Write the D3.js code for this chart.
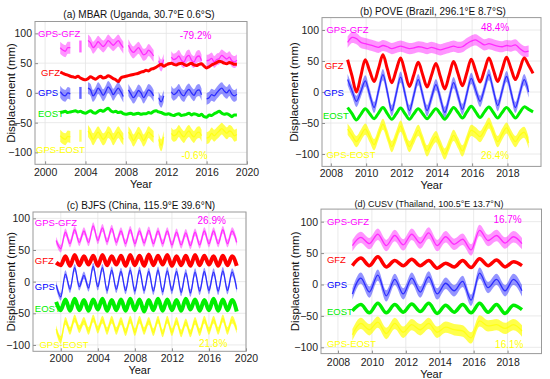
<!DOCTYPE html>
<html><head><meta charset="utf-8">
<script src="https://cdn.jsdelivr.net/npm/d3@7"></script>
<style>
body{margin:0;background:#fff}
svg{display:block;font-family:"Liberation Sans",Arial,Helvetica,sans-serif}
</style>
</head><body>
<svg id="chart" width="550" height="379"></svg>
<script>
// ---------------- DATA ----------------
const seriesNames = ["GPS-GFZ", "GFZ", "GPS", "EOST", "GPS-EOST"];
const yTickValues = [-100, -50, 0, 50, 100];

// (a) MBAR: sampled every 0.25 yr from 2001.5
const aYears = d3.range(71).map(i => 2001.5 + 0.25 * i);
const aXTicks = [2000, 2004, 2008, 2012, 2016, 2020];
const aGPS = [2,-3,-5,0,-2,null,null,null,0,null,null,8,5,-5,0,8,3,-4,2,10,5,-3,3,8,2,-6,null,5,-2,-8,-3,4,0,-8,-2,5,2,-5,null,-8,-15,-5,null,null,2,-3,0,5,-2,-5,2,6,0,-4,3,5,-3,null,-10,-8,-3,-5,0,5,8,3,0,5,-2,-5,-2];
const aGPSGFZ = [76,72,70,76,76,null,null,null,78,null,null,88,84,76,80,86,82,78,82,88,84,80,84,88,82,76,null,80,72,68,72,76,70,64,66,72,68,62,null,54,46,56,null,null,60,56,58,62,55,52,60,63,55,52,60,62,54,null,54,55,58,52,56,58,63,60,57,60,54,52,55];
const aGPSEOST = [-72,-76,-78,-73,-74,null,null,null,-72,null,null,-64,-70,-78,-72,-66,-72,-78,-74,-66,-70,-78,-72,-66,-72,-78,null,-66,-72,-80,-74,-67,-72,-80,-74,-66,-70,-74,null,-78,-88,-74,null,null,-68,-72,-70,-64,-70,-74,-68,-64,-70,-74,-68,-66,-72,null,-76,-74,-68,-72,-68,-64,-60,-64,-68,-64,-66,-72,-70];
const aGFZ = [35,33,31,30,28,27,26,28,25,23,22,24,27,25,23,26,28,25,26,29,27,24,22,19,25,27,28,29,30,31,32,33,35,36,38,37,40,41,43,46,48,45,47,49,50,48,47,49,50,48,46,48,50,47,46,48,49,45,42,44,47,49,51,53,52,50,49,51,50,48,48];
const aEOST = [-33,-32,-31,-33,-32,-31,-30,-32,-31,-33,-34,-32,-30,-33,-34,-31,-29,-31,-28,-26,-30,-32,-31,-33,-32,-35,-36,-35,-34,-36,-35,-34,-36,-35,-35,-33,-34,-31,-30,-32,-33,-35,-36,-35,-37,-38,-36,-35,-38,-37,-36,-34,-37,-35,-36,-38,-36,-40,-41,-37,-38,-35,-33,-31,-34,-36,-35,-37,-40,-37,-37];
const aPercent = ["-79.2%", "-0.6%"];

// (b) POVE: sampled every 0.25 yr from 2008.95
const bYears = d3.range(43).map(i => 2008.95 + 0.25 * i);
const bXTicks = [2008, 2010, 2012, 2014, 2016, 2018];
const bGFZ = [52,26,0,26,52,34,17,38,60,37,15,35,55,32,9,28,48,28,8,27,46,25,5,27,49,30,10,31,53,34,16,35,55,36,17,36,56,38,20,37,55,43,30];
const bGPS = [20,2,-15,1,18,-4,-25,2,28,0,-30,-3,24,-3,-30,-5,20,-5,-30,-9,12,-10,-33,-10,15,-6,-28,-3,22,3,-15,6,28,3,-22,2,25,0,-25,-2,20,0,null];
const bEOST = [-25,-35,-45,-36,-27,-35,-43,-34,-25,-35,-44,-35,-26,-35,-44,-35,-27,-35,-43,-35,-27,-35,-44,-35,-25,-33,-42,-32,-23,-32,-41,-32,-24,-33,-42,-33,-25,-33,-42,-33,-24,-28,-32];
const bGPSGFZ = [80,88,86,80,78,76,74,72,75,73,70,72,74,72,70,71,73,72,70,72,70,68,70,72,74,72,73,78,82,84,80,76,78,76,74,73,75,74,76,70,65,66,null];
const bGPSEOST = [-60,-70,-80,-70,-60,-72,-85,-68,-52,-70,-88,-72,-55,-72,-88,-75,-62,-78,-95,-82,-72,-86,-100,-85,-70,-82,-95,-78,-62,-66,-72,-62,-50,-65,-80,-68,-58,-70,-80,-70,-65,-82,null];
const bPercent = ["48.4%", "26.4%"];

// (c) BJFS: sampled every 0.5 yr from 1999.5
const cYears = d3.range(40).map(i => 1999.5 + 0.5 * i);
const cXTicks = [2000, 2004, 2008, 2012, 2016, 2020];
const cGFZ = [30,26,40,25,42,26,40,27,41,25,42,26,40,27,41,25,42,26,41,25,43,26,41,27,42,25,40,26,41,25,42,26,41,27,40,25,41,26,40,25];
const cGPS = [-5,-24,12,-12,22,-8,10,-10,24,-8,22,-14,18,-12,16,-14,18,-15,18,-14,16,-15,18,-16,17,-14,16,-17,14,-18,15,-15,16,-14,15,-15,17,-14,15,-12];
const cEOST = [-32,-45,-28,-46,-27,-45,-29,-46,-28,-44,-27,-46,-29,-45,-28,-46,-27,-45,-28,-47,-29,-45,-27,-46,-28,-45,-29,-46,-27,-44,-28,-46,-29,-45,-27,-46,-28,-45,-29,-47];
const cGPSGFZ = [65,52,78,60,82,62,80,62,88,65,85,63,84,62,80,60,82,60,80,61,81,60,80,60,80,58,78,58,77,57,78,58,80,60,80,60,82,60,80,62];
const cGPSEOST = [-75,-92,-62,-78,-58,-75,-62,-78,-58,-76,-60,-78,-60,-78,-62,-80,-60,-80,-60,-78,-62,-80,-60,-82,-60,-80,-62,-82,-64,-82,-62,-80,-60,-78,-60,-78,-58,-78,-60,-76];
const cPercent = ["26.9%", "21.8%"];

// (d) CUSV: sampled every 0.5 yr from 2008.85
const dYears = d3.range(21).map(i => 2008.85 + 0.5 * i);
const dXTicks = [2008, 2010, 2012, 2014, 2016, 2018];
const dGPS = [-15,10,-12,15,-18,8,-15,10,-12,12,-15,2,-10,5,-25,18,-5,8,-10,8,-10];
const dGFZ = [30,42,30,44,28,38,30,40,30,38,26,34,28,38,27,41,30,39,28,36,30];
const dEOST = [-42,-32,-45,-30,-45,-32,-44,-31,-43,-30,-46,-33,-44,-32,-45,-30,-44,-32,-46,-33,-40];
const dGPSGFZ = [62,75,65,80,62,78,63,80,66,82,62,76,64,72,55,86,70,78,66,76,65];
const dGPSEOST = [-80,-62,-72,-60,-78,-62,-76,-64,-72,-62,-76,-68,-72,-74,-85,-58,-66,-64,-70,-64,-74];
const dPercent = ["16.7%", "16.1%"];

// ---------------- STYLE / LAYOUT ----------------
const colors = {"GPS-GFZ":"#ff00ff","GFZ":"#ff0000","GPS":"#0000ff","EOST":"#00ee00","GPS-EOST":"#ffff00"};
const modelSeries = new Set(["GFZ","EOST"]);

const panels = [
  {title:"(a) MBAR (Uganda, 30.7°E 0.6°S)", titleX:139, titleY:14, titleSize:10,
   left:35, right:247, top:21.5, bottom:164.3, xDomain:[1999,2020], yDomain:[-120,120],
   xTicks:aXTicks, years:aYears, curve:d3.curveMonotoneX, spread:10, lineW:3,
   values:{"GPS-GFZ":aGPSGFZ,"GFZ":aGFZ,"GPS":aGPS,"EOST":aEOST,"GPS-EOST":aGPSEOST},
   labelPos:[[1999.3,100],[1999.6,35],[1999.3,0],[1999.3,-35],[1999.1,-95]],
   percent:aPercent, percentPos:[[2014.9,97],[2014.8,-105]],
   yLabelX:11, xTickY:176.5, xLabelY:187.5},
  {title:"(b) POVE (Brazil, 296.1°E 8.7°S)", titleX:433, titleY:11, titleSize:10,
   left:322, right:541, top:17.6, bottom:166.4, xDomain:[2007.5,2019.9], yDomain:[-120,120],
   xTicks:bXTicks, years:bYears, curve:d3.curveCatmullRom, spread:9, lineW:3,
   values:{"GPS-GFZ":bGPSGFZ,"GFZ":bGFZ,"GPS":bGPS,"EOST":bEOST,"GPS-EOST":bGPSEOST},
   labelPos:[[2007.75,101],[2007.65,42],[2007.6,0],[2007.55,-38],[2007.75,-100]],
   percent:bPercent, percentPos:[[2017.3,104],[2017.3,-103]],
   yLabelX:294, xTickY:177.5, xLabelY:189},
  {title:"(c) BJFS (China, 115.9°E 39.6°N)", titleX:141, titleY:205, titleSize:10,
   left:33, right:246, top:212, bottom:351.3, xDomain:[1997,2020], yDomain:[-110,110],
   xTicks:cXTicks, years:cYears, curve:d3.curveMonotoneX, spread:6, lineW:4,
   values:{"GPS-GFZ":cGPSGFZ,"GFZ":cGFZ,"GPS":cGPS,"EOST":cEOST,"GPS-EOST":cGPSEOST},
   labelPos:[[1997.2,94],[1997.2,33],[1997.2,-7],[1997.2,-42],[1997.7,-100]],
   percent:cPercent, percentPos:[[2016.3,96],[2016.45,-98]],
   yLabelX:11, xTickY:362, xLabelY:374},
  {title:"(d) CUSV (Thailand, 100.5°E 13.7°N)", titleX:429, titleY:204, titleSize:9,
   left:321, right:541.5, top:209.1, bottom:353.6, xDomain:[2007,2020], yDomain:[-110,120],
   xTicks:dXTicks, years:dYears, curve:d3.curveMonotoneX, spread:9, lineW:3.5,
   values:{"GPS-GFZ":dGPSGFZ,"GFZ":dGFZ,"GPS":dGPS,"EOST":dEOST,"GPS-EOST":dGPSEOST},
   labelPos:[[2007.35,101],[2007.35,39],[2007.35,0],[2007.35,-43],[2007.35,-94]],
   percent:dPercent, percentPos:[[2018.0,103],[2018.1,-95]],
   yLabelX:295, xTickY:366, xLabelY:377.5}
];

// ---------------- DRAW ----------------
const svg = d3.select("#chart");
const defs = svg.append("defs");

panels.forEach((p, pi) => {
  const x = d3.scaleLinear().domain(p.xDomain).range([p.left, p.right]);
  const y = d3.scaleLinear().domain(p.yDomain).range([p.bottom, p.top]);
  const g = svg.append("g");
  const clipId = "clip" + pi;
  defs.append("clipPath").attr("id", clipId).append("rect")
    .attr("x", p.left).attr("y", p.top).attr("width", p.right - p.left).attr("height", p.bottom - p.top);

  // grid
  const grid = g.append("g").attr("stroke", "#e4e4e4").attr("stroke-width", 0.8);
  p.xTicks.forEach(t => grid.append("line").attr("x1", x(t)).attr("x2", x(t)).attr("y1", p.top).attr("y2", p.bottom));
  yTickValues.forEach(t => grid.append("line").attr("x1", p.left).attr("x2", p.right).attr("y1", y(t)).attr("y2", y(t)));

  // axes
  const xa = g.append("g").attr("transform", `translate(0,${p.bottom})`)
    .call(d3.axisBottom(x).tickValues(p.xTicks).tickFormat(d3.format("d")).tickSizeInner(-3).tickSizeOuter(0).tickPadding(4));
  const ya = g.append("g").attr("transform", `translate(${p.left},0)`)
    .call(d3.axisLeft(y).tickValues(yTickValues).tickSizeInner(-3).tickSizeOuter(0).tickPadding(3));
  [xa, ya].forEach(a => {
    a.select(".domain").remove();
    a.selectAll(".tick line").attr("stroke", "#8c8c8c");
    a.selectAll("text").attr("fill", "#222").style("font-size", "10.5px").style("font-family", "Liberation Sans, Arial, sans-serif");
  });
  xa.selectAll("text").attr("dy", null).attr("y", p.xTickY - p.bottom).attr("dominant-baseline", "auto");

  // series
  const plot = g.append("g").attr("clip-path", `url(#${clipId})`);
  seriesNames.forEach(name => {
    const vals = p.values[name];
    const data = p.years.map((t, i) => ({t, v: vals[i]}));
    const col = colors[name];
    if (modelSeries.has(name)) {
      plot.append("path").datum(data)
        .attr("fill", "none").attr("stroke", col).attr("stroke-width", p.lineW).attr("stroke-linejoin", "round")
        .attr("d", d3.line().defined(d => d.v != null).x(d => x(d.t)).y(d => y(d.v)).curve(p.curve));
    } else {
      plot.append("path").datum(data)
        .attr("fill", col).attr("fill-opacity", name === "GPS-EOST" ? 0.7 : 0.42).attr("stroke", "none")
        .attr("d", d3.area().defined(d => d.v != null).x(d => x(d.t))
          .y0(d => y(d.v - p.spread)).y1(d => y(d.v + p.spread)).curve(p.curve));
      plot.append("path").datum(data)
        .attr("fill", "none").attr("stroke", col).attr("stroke-width", 1.3).attr("stroke-opacity", 0.7)
        .attr("d", d3.line().defined(d => d.v != null).x(d => x(d.t)).y(d => y(d.v)).curve(p.curve));
      // isolated samples (no defined neighbours) shown as a short vertical cluster
      const iso = data.filter((d, i) => d.v != null && (i === 0 || data[i-1].v == null) && (i === data.length - 1 || data[i+1].v == null));
      plot.selectAll(null).data(iso).enter().append("rect")
        .attr("x", d => x(d.t) - 1.2).attr("width", 2.4)
        .attr("y", d => y(d.v + p.spread)).attr("height", d => y(d.v - p.spread) - y(d.v + p.spread))
        .attr("fill", col).attr("fill-opacity", 0.6);
    }
  });

  // frame
  g.append("rect").attr("x", p.left).attr("y", p.top).attr("width", p.right - p.left).attr("height", p.bottom - p.top)
    .attr("fill", "none").attr("stroke", "#9a9a9a").attr("stroke-width", 1);

  // series labels
  seriesNames.forEach((name, i) => {
    g.append("text").attr("x", x(p.labelPos[i][0])).attr("y", y(p.labelPos[i][1]))
      .attr("dominant-baseline", "central").attr("fill", colors[name]).style("font-size", "9.5px").text(name);
  });
  // percentages
  p.percent.forEach((txt, i) => {
    g.append("text").attr("x", x(p.percentPos[i][0])).attr("y", y(p.percentPos[i][1]))
      .attr("text-anchor", "middle").attr("dominant-baseline", "central")
      .attr("fill", i === 0 ? colors["GPS-GFZ"] : colors["GPS-EOST"]).style("font-size", "10px").text(txt);
  });

  // title & axis labels
  g.append("text").attr("x", p.titleX).attr("y", p.titleY).attr("text-anchor", "middle").attr("dominant-baseline", "central")
    .attr("fill", "#111").style("font-size", p.titleSize + "px").text(p.title);
  g.append("text").attr("x", (p.left + p.right) / 2).attr("y", p.xLabelY).attr("text-anchor", "middle")
    .attr("fill", "#111").style("font-size", "11px").text("Year");
  g.append("text").attr("transform", `translate(${p.yLabelX},${(p.top + p.bottom) / 2}) rotate(-90)`)
    .attr("text-anchor", "middle").attr("dominant-baseline", "central")
    .attr("fill", "#111").style("font-size", "11.5px").text("Displacement (mm)");
});
</script>
</body></html>
